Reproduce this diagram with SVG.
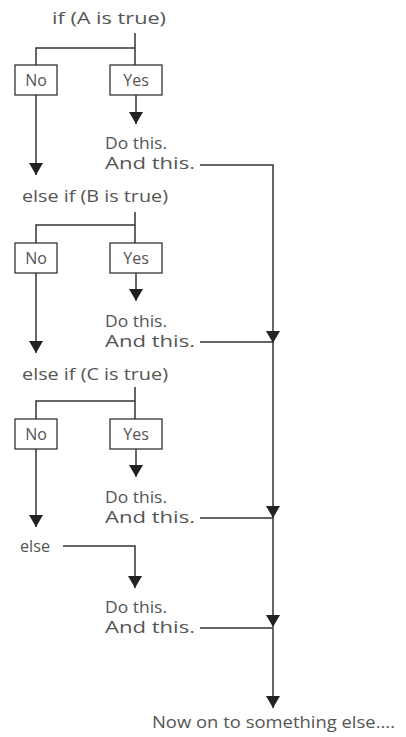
<svg xmlns="http://www.w3.org/2000/svg" width="406" height="737" viewBox="0 0 406 737">
<style>
text{font-family:"Open Sans","Noto Sans",sans-serif;font-size:16px;fill:#555}
.box{fill:#fff;stroke:#333;stroke-width:1.3}
.c{fill:none;stroke:#333;stroke-width:1.5}
.m{text-anchor:middle}
</style>
<defs>
<marker id="ah" viewBox="0 0 12 14" refX="12" refY="7" markerWidth="12" markerHeight="14" markerUnits="userSpaceOnUse" orient="auto">
<path d="M0,0 L12,7 L0,14 z" fill="#222"/>
</marker>
</defs>
<rect width="406" height="737" fill="#fff"/>
<g id="connectors">
<path class="c" d="M135,33 V65 M135,48 H36 V65"/>
<path class="c" d="M36,95 V175" marker-end="url(#ah)"/>
<path class="c" d="M136,95 V124" marker-end="url(#ah)"/>
<path class="c" d="M135,212 V243 M135,225 H36 V243"/>
<path class="c" d="M36,273 V353" marker-end="url(#ah)"/>
<path class="c" d="M136,273 V301" marker-end="url(#ah)"/>
<path class="c" d="M135,387 V419 M135,401 H36 V419"/>
<path class="c" d="M36,449 V527" marker-end="url(#ah)"/>
<path class="c" d="M136,449 V477" marker-end="url(#ah)"/>
<path class="c" d="M63,546 H135 V588" marker-end="url(#ah)"/>
<path class="c" d="M200,165 H273 V343" marker-end="url(#ah)"/>
<path class="c" d="M200,342 H273 V518" marker-end="url(#ah)"/>
<path class="c" d="M200,518 H273 V627" marker-end="url(#ah)"/>
<path class="c" d="M200,628 H273 V708" marker-end="url(#ah)"/>
</g>
<g id="if-a"><text x="52" y="24" textLength="114" lengthAdjust="spacingAndGlyphs">if (A is true)</text></g>
<g id="no-1"><rect class="box" x="15" y="65" width="42" height="30"/><text class="m" x="36" y="86">No</text></g>
<g id="yes-1"><rect class="box" x="110" y="65" width="52" height="30"/><text class="m" x="136" y="86">Yes</text></g>
<g id="do-1"><text x="105" y="149" textLength="62" lengthAdjust="spacingAndGlyphs">Do this.</text><text x="105" y="169" textLength="90" lengthAdjust="spacingAndGlyphs">And this.</text></g>
<g id="if-b"><text x="22" y="202" textLength="146" lengthAdjust="spacingAndGlyphs">else if (B is true)</text></g>
<g id="no-2"><rect class="box" x="15" y="243" width="42" height="30"/><text class="m" x="36" y="264">No</text></g>
<g id="yes-2"><rect class="box" x="110" y="243" width="52" height="30"/><text class="m" x="136" y="264">Yes</text></g>
<g id="do-2"><text x="105" y="327" textLength="62" lengthAdjust="spacingAndGlyphs">Do this.</text><text x="105" y="347" textLength="90" lengthAdjust="spacingAndGlyphs">And this.</text></g>
<g id="if-c"><text x="22" y="380" textLength="146" lengthAdjust="spacingAndGlyphs">else if (C is true)</text></g>
<g id="no-3"><rect class="box" x="15" y="419" width="42" height="30"/><text class="m" x="36" y="440">No</text></g>
<g id="yes-3"><rect class="box" x="110" y="419" width="52" height="30"/><text class="m" x="136" y="440">Yes</text></g>
<g id="do-3"><text x="105" y="503" textLength="62" lengthAdjust="spacingAndGlyphs">Do this.</text><text x="105" y="523" textLength="90" lengthAdjust="spacingAndGlyphs">And this.</text></g>
<g id="else"><text x="20" y="552" textLength="30" lengthAdjust="spacingAndGlyphs">else</text></g>
<g id="do-4"><text x="105" y="613" textLength="62" lengthAdjust="spacingAndGlyphs">Do this.</text><text x="105" y="633" textLength="90" lengthAdjust="spacingAndGlyphs">And this.</text></g>
<g id="end"><text x="152" y="728" textLength="243" lengthAdjust="spacingAndGlyphs">Now on to something else....</text></g>
</svg>
